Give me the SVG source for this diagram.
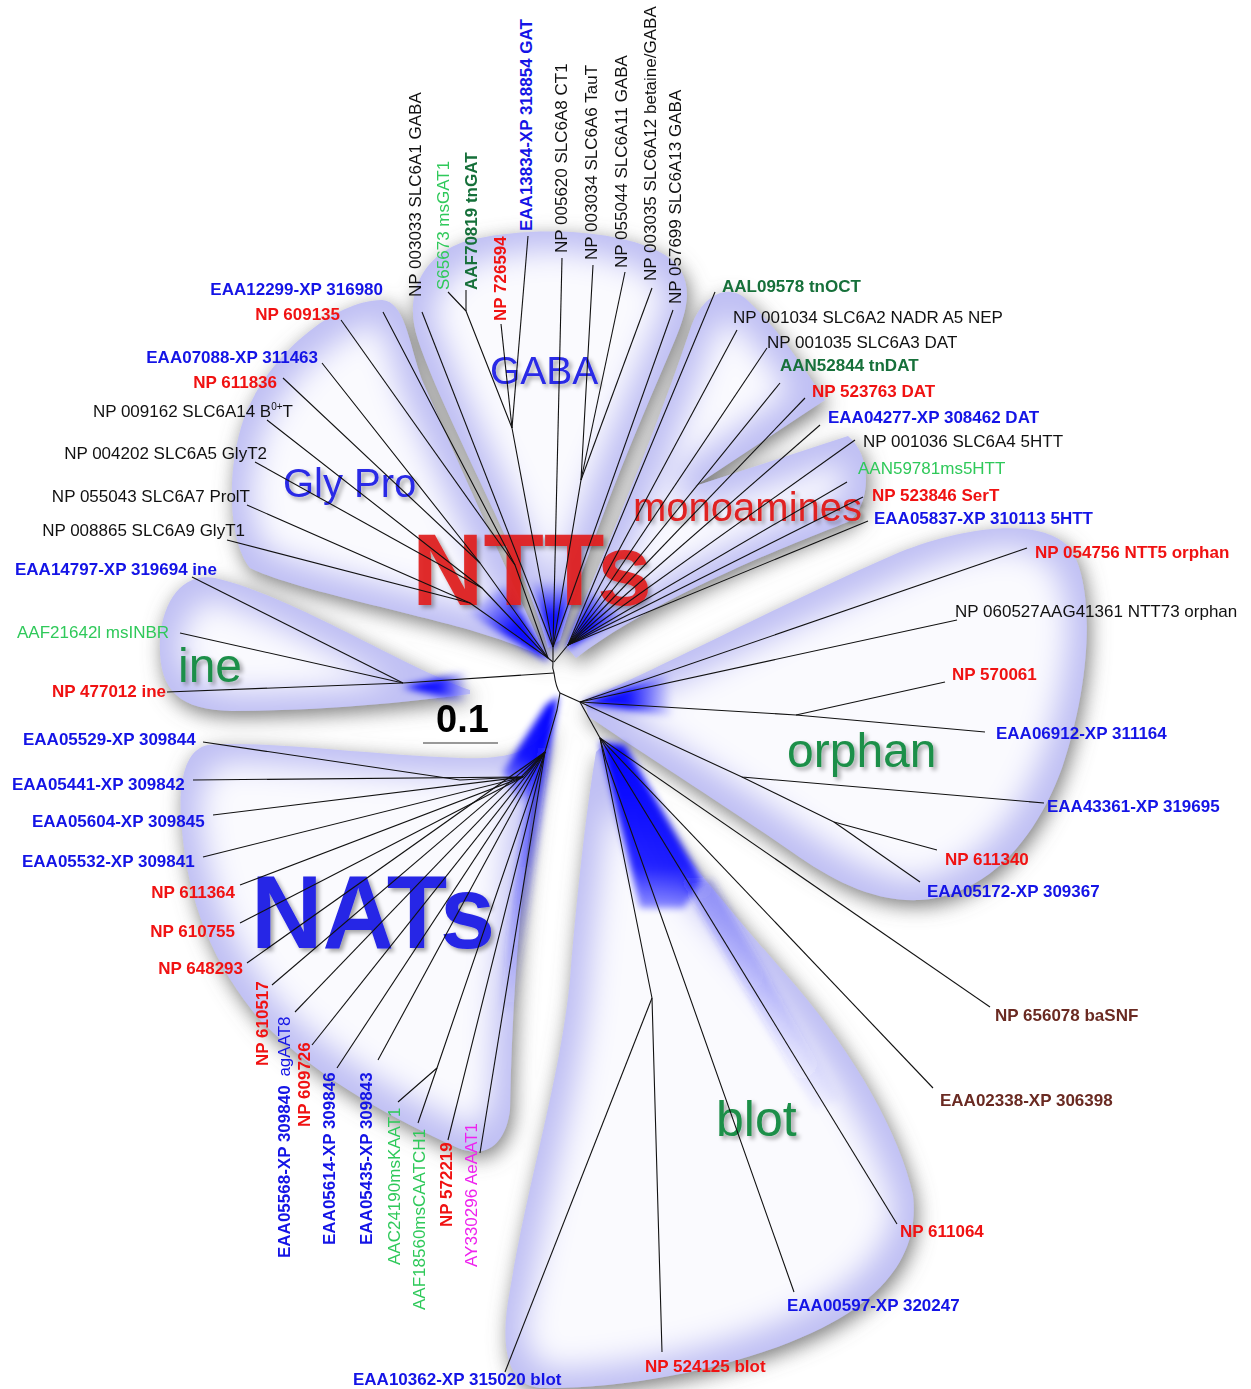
<svg xmlns="http://www.w3.org/2000/svg" xmlns:xlink="http://www.w3.org/1999/xlink" width="1251" height="1389" viewBox="0 0 1251 1389">
<style>
.lb{font-family:"Liberation Sans",Arial,sans-serif;font-size:17px}
.b{font-weight:bold}
.blue{fill:#1414e6}.red{fill:#f01212}.blk{fill:#111}.dg{fill:#16703a}.lg{fill:#2fc95a}.mag{fill:#ee22ee}.brn{fill:#6a2a22}
.br{fill:none;stroke:#111;stroke-width:1.1;stroke-linejoin:round}
.lobe{fill:#c0c0f4}
.cl{font-family:"Liberation Sans",Arial,sans-serif}
</style>
<defs>
<path id="lGP" d="M548,660 C525,610 470,490 422,380 C408,340 405,302 382,300 C335,300 268,355 244,418 C226,470 228,540 250,568 C290,588 400,610 470,630 C510,642 535,652 548,660 Z"/>
<path id="lGABA" d="M548,648 C525,560 445,420 418,340 C402,292 425,252 470,240 C530,226 620,228 665,255 C695,275 690,305 675,340 C650,400 600,510 560,640 Z"/>
<path id="lMono" d="M566,646 C600,560 650,450 690,330 C700,298 725,282 745,298 C780,330 805,370 825,400 L695,486 L848,436 C872,455 872,505 848,522 C790,545 660,595 576,658 Z"/>
<path id="lIne" d="M470,690 C400,665 290,595 215,578 C180,572 162,605 160,640 C158,690 178,710 232,711 C320,711 410,702 470,694 Z"/>
<path id="lNAT" d="M557,705 C545,745 525,760 460,758 C360,754 260,740 208,745 C182,750 178,790 182,830 C188,900 212,965 262,1022 C322,1082 400,1122 458,1148 C488,1160 506,1142 510,1110 C512,1000 520,900 533,800 C540,760 550,730 557,705 Z"/>
<path id="lOrph" d="M585,700 C660,668 790,600 900,552 C960,528 1040,515 1070,548 C1095,585 1092,680 1062,768 C1032,850 980,896 920,900 C872,902 832,880 792,852 C720,802 640,752 588,716 Z"/>
<path id="lBlot" d="M600,748 C640,800 720,900 795,985 C855,1055 900,1135 913,1195 C920,1255 882,1298 822,1328 C742,1368 622,1390 540,1388 C505,1385 500,1342 510,1290 C528,1180 560,1080 570,980 C578,880 588,800 596,752 Z"/>
<clipPath id="cGP"><use href="#lGP"/></clipPath>
<clipPath id="cGABA"><use href="#lGABA"/></clipPath>
<clipPath id="cMono"><use href="#lMono"/></clipPath>
<clipPath id="cIne"><use href="#lIne"/></clipPath>
<clipPath id="cNAT"><use href="#lNAT"/></clipPath>
<clipPath id="cOrph"><use href="#lOrph"/></clipPath>
<clipPath id="cBlot"><use href="#lBlot"/></clipPath>
<filter id="halo" filterUnits="userSpaceOnUse" x="0" y="0" width="1251" height="1389">
<feGaussianBlur in="SourceAlpha" stdDeviation="10" result="b"/>
<feOffset in="b" dx="3" dy="6" result="o"/>
<feFlood flood-color="#6e6e6e" flood-opacity="0.9"/>
<feComposite in2="o" operator="in" result="s"/>
<feMerge><feMergeNode in="s"/><feMergeNode in="SourceGraphic"/></feMerge>
</filter>
<filter id="inner" x="-5%" y="-5%" width="110%" height="110%">
<feMorphology operator="erode" radius="18"/>
<feGaussianBlur stdDeviation="15"/>
</filter>
<filter id="soft" filterUnits="userSpaceOnUse" x="0" y="0" width="1251" height="1389">
<feGaussianBlur stdDeviation="3.5"/>
</filter>
<filter id="ts" x="-10%" y="-10%" width="130%" height="130%">
<feDropShadow dx="3" dy="3" stdDeviation="2" flood-color="#000" flood-opacity="0.35"/>
</filter>
<linearGradient id="gGP" gradientUnits="userSpaceOnUse" x1="548" y1="660" x2="480" y2="595"><stop offset="0" stop-color="#0000ff"/><stop offset="0.5" stop-color="#0000ff" stop-opacity="0.9"/><stop offset="1" stop-color="#0000ff" stop-opacity="0"/></linearGradient>
<linearGradient id="gGABA" gradientUnits="userSpaceOnUse" x1="553" y1="650" x2="553" y2="580"><stop offset="0" stop-color="#0000ff"/><stop offset="0.5" stop-color="#0000ff" stop-opacity="0.9"/><stop offset="1" stop-color="#0000ff" stop-opacity="0"/></linearGradient>
<linearGradient id="gMono" gradientUnits="userSpaceOnUse" x1="567" y1="648" x2="610" y2="598"><stop offset="0" stop-color="#0000ff"/><stop offset="0.5" stop-color="#0000ff" stop-opacity="0.9"/><stop offset="1" stop-color="#0000ff" stop-opacity="0"/></linearGradient>
<radialGradient id="gIne" gradientUnits="userSpaceOnUse" cx="418" cy="687" r="50"><stop offset="0" stop-color="#0000ff"/><stop offset="0.45" stop-color="#0000ff" stop-opacity="0.85"/><stop offset="1" stop-color="#0000ff" stop-opacity="0"/></radialGradient>
<linearGradient id="gOrph" gradientUnits="userSpaceOnUse" x1="583" y1="702" x2="672" y2="694"><stop offset="0" stop-color="#0000ff"/><stop offset="0.5" stop-color="#0000ff" stop-opacity="0.9"/><stop offset="1" stop-color="#0000ff" stop-opacity="0"/></linearGradient>
<linearGradient id="gNAT" gradientUnits="userSpaceOnUse" x1="557" y1="700" x2="505" y2="805"><stop offset="0" stop-color="#0000ff"/><stop offset="0.55" stop-color="#0000ff" stop-opacity="0.9"/><stop offset="1" stop-color="#0000ff" stop-opacity="0"/></linearGradient>
<linearGradient id="gNATs" gradientUnits="userSpaceOnUse" x1="0" y1="705" x2="0" y2="1020"><stop offset="0" stop-color="#0000ff" stop-opacity="0.9"/><stop offset="0.4" stop-color="#1a1aff" stop-opacity="0.5"/><stop offset="1" stop-color="#4040ff" stop-opacity="0"/></linearGradient>
<linearGradient id="gBlot" gradientUnits="userSpaceOnUse" x1="0" y1="742" x2="0" y2="950"><stop offset="0" stop-color="#0000ff"/><stop offset="0.6" stop-color="#0000ff" stop-opacity="0.85"/><stop offset="1" stop-color="#0000ff" stop-opacity="0"/></linearGradient>
<linearGradient id="gBlot2" gradientUnits="userSpaceOnUse" x1="690" y1="880" x2="850" y2="1120"><stop offset="0" stop-color="#3030ff" stop-opacity="0.35"/><stop offset="1" stop-color="#3030ff" stop-opacity="0"/></linearGradient>
</defs>
<rect width="1251" height="1389" fill="#fff"/>

<g id="lobes">
<g filter="url(#halo)">
<use href="#lGP" class="lobe"/>
<use href="#lGABA" class="lobe"/>
<use href="#lMono" class="lobe"/>
<use href="#lIne" class="lobe"/>
<use href="#lNAT" class="lobe"/>
<use href="#lOrph" class="lobe"/>
<use href="#lBlot" class="lobe"/>
</g>
<g fill="#fff" opacity="0.92">
<g clip-path="url(#cGP)"><use href="#lGP" filter="url(#inner)"/></g>
<g clip-path="url(#cGABA)"><use href="#lGABA" filter="url(#inner)"/></g>
<g clip-path="url(#cMono)"><use href="#lMono" filter="url(#inner)"/></g>
<g clip-path="url(#cIne)"><use href="#lIne" filter="url(#inner)"/></g>
<g clip-path="url(#cNAT)"><use href="#lNAT" filter="url(#inner)"/></g>
<g clip-path="url(#cOrph)"><use href="#lOrph" filter="url(#inner)"/></g>
<g clip-path="url(#cBlot)"><use href="#lBlot" filter="url(#inner)"/></g>
</g>
</g>

<g id="blue-bases" filter="url(#soft)">
<path d="M549,662 L505,585 L466,612 Z" fill="url(#gGP)"/>
<path d="M553,652 L530,578 L576,582 Z" fill="url(#gGABA)"/>
<path d="M566,650 L590,592 L624,614 Z" fill="url(#gMono)"/>
<path d="M402,687 L472,670 L472,704 Z" fill="url(#gIne)"/>
<path d="M582,703 L670,672 L672,716 Z" fill="url(#gOrph)"/>
<path d="M559,696 L546,705 L503,772 L518,804 L534,790 Z" fill="url(#gNAT)"/>
<path d="M557,705 C549,760 536,850 514,1010 L500,1010 C514,880 526,800 540,740 Z" fill="url(#gNATs)"/>
<path d="M600,742 L625,745 L702,880 L684,908 L640,908 L612,790 Z" fill="url(#gBlot)"/>
<path d="M682,880 L712,880 L840,1100 L815,1110 Z" fill="url(#gBlot2)"/>
</g>

<g id="clade-labels" filter="url(#ts)">
<text class="cl" x="490" y="384" font-size="39" fill="#2a2ae6">GABA</text>
<text class="cl" x="283" y="497" font-size="40" fill="#2a2ae6">Gly Pro</text>
<text class="cl" x="633" y="521" font-size="40" fill="#e02222">monoamines</text>
<text class="cl" x="412" y="605" font-size="102" font-weight="bold" fill="#e01f1f" fill-opacity="0.92" textLength="240" lengthAdjust="spacingAndGlyphs">NTTs</text>
<text class="cl" x="178" y="682" font-size="48" fill="#1f8f4a">ine</text>
<text class="cl" x="787" y="767" font-size="48" fill="#1f8f4a">orphan</text>
<text class="cl" x="716" y="1136" font-size="50" fill="#1f8f4a">blot</text>
<text class="cl" x="251" y="948" font-size="104" font-weight="bold" fill="#2525e6" textLength="244" lengthAdjust="spacingAndGlyphs">NATs</text>
</g>
<g id="scale">
<text class="cl" x="436" y="732" font-size="38" font-weight="bold" fill="#000">0.1</text>
<line x1="423" y1="743" x2="498" y2="743" stroke="#777" stroke-width="1.5"/>
</g>

<g id="connectors" class="br">
<path d="M553,647 L553,662 Q552,668 554,673 Q556,688 560,693"/>
<path d="M553,662 L548,658"/>
<path d="M554,662 L568,645"/>
<path d="M554,673 L403,683"/>
<path d="M560,693 L580,702"/>
<path d="M560,693 L557,710 L545,752"/>
<path d="M580,702 L600,738"/>
<path d="M383,312 L515,565 L548,658"/>
<path d="M341,320 L515,565"/>
<path d="M322,363 L480,563 L548,658"/>
<path d="M283,378 L480,563"/>
<path d="M267,420 L482,588 L548,658"/>
<path d="M255,462 L482,588"/>
<path d="M247,505 L470,603 L548,658"/>
<path d="M227,540 L470,603"/>
<path d="M422,312 L553,647"/>
<path d="M448,292 L466,311 L512,428 L553,647"/>
<path d="M466,290 L466,311"/>
<path d="M501,324 L512,428"/>
<path d="M528,236 L512,428"/>
<path d="M562,258 L553,647"/>
<path d="M593,265 L581,480 L553,647"/>
<path d="M625,272 L581,480"/>
<path d="M652,288 L581,480"/>
<path d="M673,310 L553,647"/>
<path d="M715,292 L568,645"/>
<path d="M737,330 L568,645"/>
<path d="M767,348 L568,645"/>
<path d="M780,383 L568,645"/>
<path d="M805,398 L568,645"/>
<path d="M820,425 L568,645"/>
<path d="M855,440 L568,645"/>
<path d="M847,482 L568,645"/>
<path d="M863,497 L568,645"/>
<path d="M868,521 L568,645"/>
<path d="M192,577 L403,683"/>
<path d="M180,633 L403,683"/>
<path d="M167,692 L403,683"/>
<path d="M1027,548 L580,702"/>
<path d="M957,620 L580,702"/>
<path d="M985,732 L796,715 L580,702"/>
<path d="M945,682 L796,715"/>
<path d="M1044,803 L742,777 L580,702"/>
<path d="M937,850 L834,822 L742,777"/>
<path d="M920,882 L834,822"/>
<path d="M990,1007 L600,738"/>
<path d="M933,1088 L600,738"/>
<path d="M897,1224 L600,738"/>
<path d="M794,1292 L606,760 L600,738"/>
<path d="M662,1352 L652,998 L600,738"/>
<path d="M505,1372 L652,998"/>
<path d="M203,742 L460,780 L523,777 L545,752"/>
<path d="M193,780 L523,777"/>
<path d="M213,815 L523,777"/>
<path d="M203,857 L523,777"/>
<path d="M240,885 L523,777"/>
<path d="M240,923 L523,777"/>
<path d="M247,963 L545,752"/>
<path d="M272,985 L545,752"/>
<path d="M295,1012 L545,752"/>
<path d="M312,1045 L545,752"/>
<path d="M337,1068 L545,752"/>
<path d="M378,1060 L545,752"/>
<path d="M398,1102 L437,1068 L545,752"/>
<path d="M418,1123 L437,1068"/>
<path d="M448,1140 L545,752"/>
<path d="M480,1153 L545,752"/>
</g>

<g id="n-SLC6A1"><text class="lb blk" transform="translate(421,297) rotate(-90)">NP 003033 SLC6A1 GABA</text></g>
<g id="n-S65673"><text class="lb lg" transform="translate(449,290) rotate(-90)">S65673 msGAT1</text></g>
<g id="n-AAF70819"><text class="lb b dg" transform="translate(477,290) rotate(-90)">AAF70819 tnGAT</text></g>
<g id="n-NP726594"><text class="lb b red" transform="translate(506,321) rotate(-90)">NP 726594</text></g>
<g id="n-EAA13834"><text class="lb b blue" transform="translate(532,231) rotate(-90)">EAA13834-XP 318854 GAT</text></g>
<g id="n-SLC6A8"><text class="lb blk" transform="translate(567,253) rotate(-90)">NP 005620 SLC6A8 CT1</text></g>
<g id="n-SLC6A6"><text class="lb blk" transform="translate(597,260) rotate(-90)">NP 003034 SLC6A6 TauT</text></g>
<g id="n-SLC6A11"><text class="lb blk" transform="translate(627,268) rotate(-90)">NP 055044 SLC6A11 GABA</text></g>
<g id="n-SLC6A12"><text class="lb blk" transform="translate(656,281) rotate(-90)">NP 003035 SLC6A12 betaine/GABA</text></g>
<g id="n-SLC6A13"><text class="lb blk" transform="translate(681,304) rotate(-90)">NP 057699 SLC6A13 GABA</text></g>

<g id="n-EAA12299"><text class="lb b blue" x="383" y="295" text-anchor="end">EAA12299-XP 316980</text></g>
<g id="n-NP609135"><text class="lb b red" x="340" y="320" text-anchor="end">NP 609135</text></g>
<g id="n-EAA07088"><text class="lb b blue" x="318" y="363" text-anchor="end">EAA07088-XP 311463</text></g>
<g id="n-NP611836"><text class="lb b red" x="277" y="388" text-anchor="end">NP 611836</text></g>
<g id="n-SLC6A14"><text class="lb blk" x="293" y="417" text-anchor="end">NP 009162 SLC6A14 B<tspan dy="-7" font-size="10">0+</tspan><tspan dy="7">T</tspan></text></g>
<g id="n-SLC6A5"><text class="lb blk" x="267" y="459" text-anchor="end">NP 004202 SLC6A5 GlyT2</text></g>
<g id="n-SLC6A7"><text class="lb blk" x="250" y="502" text-anchor="end">NP 055043 SLC6A7 ProlT</text></g>
<g id="n-SLC6A9"><text class="lb blk" x="245" y="536" text-anchor="end">NP 008865 SLC6A9 GlyT1</text></g>
<g id="n-EAA14797"><text class="lb b blue" x="15" y="575">EAA14797-XP 319694 ine</text></g>
<g id="n-AAF21642"><text class="lb lg" x="17" y="638">AAF21642l msINBR</text></g>
<g id="n-NP477012"><text class="lb b red" x="52" y="697">NP 477012 ine</text></g>
<g id="n-EAA05529"><text class="lb b blue" x="23" y="745">EAA05529-XP 309844</text></g>
<g id="n-EAA05441"><text class="lb b blue" x="12" y="790">EAA05441-XP 309842</text></g>
<g id="n-EAA05604"><text class="lb b blue" x="32" y="827">EAA05604-XP 309845</text></g>
<g id="n-EAA05532"><text class="lb b blue" x="22" y="867">EAA05532-XP 309841</text></g>
<g id="n-NP611364"><text class="lb b red" x="235" y="898" text-anchor="end">NP 611364</text></g>
<g id="n-NP610755"><text class="lb b red" x="235" y="937" text-anchor="end">NP 610755</text></g>
<g id="n-NP648293"><text class="lb b red" x="243" y="974" text-anchor="end">NP 648293</text></g>

<g id="n-NP610517"><text class="lb b red" transform="translate(268,1066) rotate(-90)">NP 610517</text></g>
<g id="n-EAA05568"><text class="lb b blue" transform="translate(290,1258) rotate(-90)">EAA05568-XP 309840<tspan font-weight="normal" dx="4"> agAAT8</tspan></text></g>
<g id="n-NP609726"><text class="lb b red" transform="translate(310,1127) rotate(-90)">NP 609726</text></g>
<g id="n-EAA05614"><text class="lb b blue" transform="translate(335,1245) rotate(-90)">EAA05614-XP 309846</text></g>
<g id="n-EAA05435"><text class="lb b blue" transform="translate(372,1245) rotate(-90)">EAA05435-XP 309843</text></g>
<g id="n-AAC24190"><text class="lb lg" transform="translate(400,1265) rotate(-90)">AAC24190msKAAT1</text></g>
<g id="n-AAF18560"><text class="lb lg" transform="translate(425,1310) rotate(-90)">AAF18560msCAATCH1</text></g>
<g id="n-NP572219"><text class="lb b red" transform="translate(452,1227) rotate(-90)">NP 572219</text></g>
<g id="n-AY330296"><text class="lb mag" transform="translate(477,1267) rotate(-90)">AY330296 AeAAT1</text></g>

<g id="n-AAL09578"><text class="lb b dg" x="722" y="292">AAL09578 tnOCT</text></g>
<g id="n-SLC6A2"><text class="lb blk" x="733" y="323">NP 001034 SLC6A2 NADR A5 NEP</text></g>
<g id="n-SLC6A3"><text class="lb blk" x="767" y="348">NP 001035 SLC6A3 DAT</text></g>
<g id="n-AAN52844"><text class="lb b dg" x="780" y="371">AAN52844 tnDAT</text></g>
<g id="n-NP523763"><text class="lb b red" x="812" y="397">NP 523763 DAT</text></g>
<g id="n-EAA04277"><text class="lb b blue" x="828" y="423">EAA04277-XP 308462 DAT</text></g>
<g id="n-SLC6A4"><text class="lb blk" x="863" y="447">NP 001036 SLC6A4 5HTT</text></g>
<g id="n-AAN59781"><text class="lb lg" x="858" y="474">AAN59781ms5HTT</text></g>
<g id="n-NP523846"><text class="lb b red" x="872" y="501">NP 523846 SerT</text></g>
<g id="n-EAA05837"><text class="lb b blue" x="874" y="524">EAA05837-XP 310113 5HTT</text></g>
<g id="n-NP054756"><text class="lb b red" x="1035" y="558">NP 054756 NTT5 orphan</text></g>
<g id="n-NP060527"><text class="lb blk" x="955" y="617">NP 060527AAG41361 NTT73 orphan</text></g>
<g id="n-NP570061"><text class="lb b red" x="952" y="680">NP 570061</text></g>
<g id="n-EAA06912"><text class="lb b blue" x="996" y="739">EAA06912-XP 311164</text></g>
<g id="n-EAA43361"><text class="lb b blue" x="1047" y="812">EAA43361-XP 319695</text></g>
<g id="n-NP611340"><text class="lb b red" x="945" y="865">NP 611340</text></g>
<g id="n-EAA05172"><text class="lb b blue" x="927" y="897">EAA05172-XP 309367</text></g>
<g id="n-NP656078"><text class="lb b brn" x="995" y="1021">NP 656078 baSNF</text></g>
<g id="n-EAA02338"><text class="lb b brn" x="940" y="1106">EAA02338-XP 306398</text></g>
<g id="n-NP611064"><text class="lb b red" x="900" y="1237">NP 611064</text></g>
<g id="n-EAA00597"><text class="lb b blue" x="787" y="1311">EAA00597-XP 320247</text></g>
<g id="n-NP524125"><text class="lb b red" x="645" y="1372">NP 524125 blot</text></g>
<g id="n-EAA10362"><text class="lb b blue" x="353" y="1385">EAA10362-XP 315020 blot</text></g>
</svg>
